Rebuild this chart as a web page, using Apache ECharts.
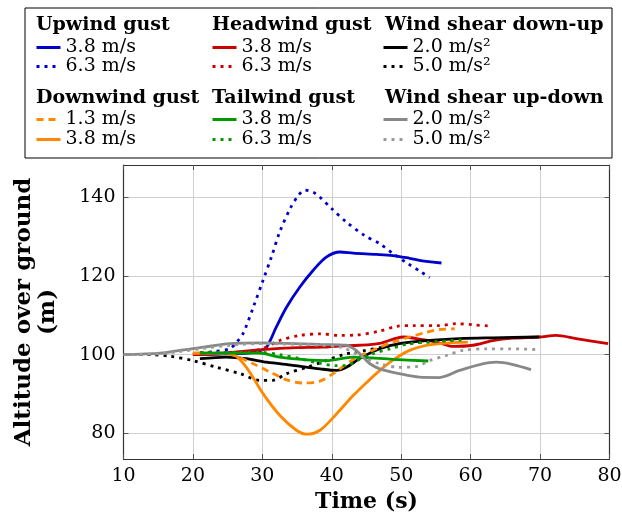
<!DOCTYPE html>
<html><head><meta charset="utf-8">
<script src="https://cdn.jsdelivr.net/npm/echarts@6/dist/echarts.min.js"></script>
<style>html,body{margin:0;padding:0;background:#fff}#c{width:622px;height:521px}</style>
</head><body><div id="c"></div>
<script>
// ---- data ----
const xTickValues = [10, 20, 30, 40, 50, 60, 70, 80];
const yTickValues = [80, 100, 120, 140];
const groupTitles = ["Upwind gust", "Headwind gust", "Wind shear down-up", "Downwind gust", "Tailwind gust", "Wind shear up-down"];
const entryLabels = ["3.8 m/s", "6.3 m/s", "3.8 m/s", "6.3 m/s", "2.0 m/s\u00b2", "5.0 m/s\u00b2", "1.3 m/s", "3.8 m/s", "3.8 m/s", "6.3 m/s", "2.0 m/s\u00b2", "5.0 m/s\u00b2"];

const upwind38T = [20, 25, 28, 29.5, 30.6, 32.0, 33.5, 35.4, 37.3, 39.2, 41.2, 43.1, 46.4, 48.8, 51.2, 53.6, 55.8];
const upwind38H = [100, 100.2, 100.4, 100.9, 101.9, 107.0, 112.1, 117.2, 121.4, 124.8, 126.1, 125.8, 125.5, 125.2, 124.5, 123.7, 123.3];
const upwind63T = [20, 23, 25.3, 26.3, 27.2, 28.7, 30.1, 31.3, 32.5, 34.0, 35.2, 36.1, 37.3, 38.3, 40.0, 42.1, 44.7, 46.9, 48.8, 51.0, 52.9, 54.1];
const upwind63H = [100.2, 100.8, 101.5, 103.2, 105.3, 112.1, 118.9, 124.8, 131.2, 137.1, 140.5, 141.8, 141.3, 140.0, 137.1, 133.7, 130.3, 128.2, 125.7, 123.1, 121.0, 119.6];
const headwind38T = [20, 25, 30, 35, 38.7, 41, 44.0, 46.9, 50.3, 52.2, 55.1, 57.5, 60.3, 63.2, 66.1, 69.9, 72.3, 75.2, 79.8];
const headwind38H = [100, 100.5, 101.3, 101.8, 101.9, 102.2, 102.4, 102.9, 104.5, 104.1, 103.2, 102.1, 102.4, 103.6, 104.2, 104.5, 104.9, 104.1, 102.8];
const headwind63T = [20, 25, 29.6, 32.5, 35.4, 38.3, 41.2, 43.5, 46.9, 49.3, 51.7, 55.5, 57.9, 60.3, 62.7];
const headwind63H = [100, 100.3, 101.3, 103.6, 104.9, 105.3, 104.9, 105.0, 106.0, 107.2, 107.4, 107.4, 107.9, 107.6, 107.3];
const shearDU20T = [21.0, 24.8, 27.7, 30.6, 34.4, 38.3, 40.7, 42.1, 44.0, 46.9, 49.7, 53.6, 58.4, 63.2, 69.9];
const shearDU20H = [99.0, 99.4, 99.0, 98.1, 97.3, 96.4, 96.0, 96.8, 99.0, 101.5, 102.8, 103.6, 104.1, 104.3, 104.5];
const shearDU50T = [10, 14, 16.7, 20.0, 23.4, 26.8, 29.6, 31.5, 33.5, 36.4, 39.2, 41.6, 44.5, 47.4, 50.7, 54.0, 58.0];
const shearDU50H = [100, 100, 99.6, 98.5, 96.8, 95.2, 93.5, 93.5, 95.2, 96.8, 98.5, 100.0, 101.0, 101.9, 102.8, 103.3, 103.8];
const downwind13T = [20, 23.6, 25.8, 28.7, 31.1, 33.5, 35.9, 38.3, 40.2, 42.6, 44.0, 46.4, 48.8, 51.2, 53.6, 55.5, 57.7];
const downwind13H = [100.4, 100.4, 99.9, 97.7, 95.6, 93.6, 92.8, 93.3, 95.2, 98.2, 99.6, 101.5, 103.2, 104.5, 105.7, 106.4, 106.6];
const downwind38T = [20, 23.9, 25.8, 27.7, 30.1, 32.5, 34.9, 36.4, 38.3, 40.7, 43.1, 44.0, 46.4, 48.8, 51.2, 53.6, 56.0, 59.6];
const downwind38H = [100.4, 100.4, 100.1, 96.8, 90.1, 84.6, 80.8, 79.8, 80.8, 85.0, 89.7, 91.2, 95.2, 98.6, 101.1, 102.4, 102.9, 103.2];
const tailwind38T = [21, 23.4, 29.6, 32.5, 36.4, 39.2, 43.1, 48.8, 53.9];
const tailwind38H = [100.4, 100.4, 100.4, 99.4, 98.7, 98.5, 99.4, 98.8, 98.4];
const tailwind63T = [21, 25, 29.6, 32.5, 35.4, 38.3, 40.5, 42.0, 43.6, 46.0, 48.4, 51.2, 54.1, 58.9];
const tailwind63H = [100.6, 100.6, 100.6, 100.0, 99.0, 97.8, 97.2, 97.2, 98.5, 100.3, 101.5, 102.8, 103.2, 103.8];
const shearUD20T = [10, 15.3, 18.1, 21.5, 25.3, 29.6, 33.5, 38.3, 42.1, 43.5, 44.5, 45.5, 46.9, 49.7, 52.6, 55.5, 58.4, 61.3, 63.7, 66.1, 68.7];
const shearUD20H = [100, 100.4, 101.1, 101.9, 102.8, 103.0, 102.9, 102.6, 102.4, 101.1, 99.4, 97.7, 96.4, 95.2, 94.3, 94.2, 96.0, 97.5, 98.1, 97.5, 96.2];
const shearUD50T = [10, 15, 18, 21.5, 25.3, 29.6, 33.5, 38.3, 41.5, 44, 46.9, 49.7, 52.2, 54.1, 56.5, 58.9, 62.3, 65.6, 69.7];
const shearUD50H = [100, 100.2, 100.8, 101.6, 102.4, 102.8, 102.7, 102.4, 101.8, 99.8, 97.7, 96.8, 97.0, 98.5, 99.8, 101.1, 101.5, 101.5, 101.3];

// ---- styling ----
const FONT = 'DejaVu Serif';
const DOT = [3, 5];
const DASH = [7, 5];
const defs = [
  { name: 'Upwind gust 3.8',  label: entryLabels[0],  t: upwind38T,  h: upwind38H,  color: '#0000cc', type: 'solid', lx: 35,  ly: 45 },
  { name: 'Upwind gust 6.3',  label: entryLabels[1],  t: upwind63T,  h: upwind63H,  color: '#0000cc', type: DOT,     lx: 35,  ly: 64 },
  { name: 'Headwind gust 3.8', label: entryLabels[2], t: headwind38T, h: headwind38H, color: '#cc0000', type: 'solid', lx: 211, ly: 45 },
  { name: 'Headwind gust 6.3', label: entryLabels[3], t: headwind63T, h: headwind63H, color: '#cc0000', type: DOT,     lx: 211, ly: 64 },
  { name: 'Shear DU 2.0',     label: entryLabels[4],  t: shearDU20T, h: shearDU20H, color: '#000000', type: 'solid', lx: 382, ly: 45 },
  { name: 'Shear DU 5.0',     label: entryLabels[5],  t: shearDU50T, h: shearDU50H, color: '#000000', type: DOT,     lx: 382, ly: 64 },
  { name: 'Downwind gust 1.3', label: entryLabels[6], t: downwind13T, h: downwind13H, color: '#ff8800', type: DASH,   lx: 35,  ly: 117 },
  { name: 'Downwind gust 3.8', label: entryLabels[7], t: downwind38T, h: downwind38H, color: '#ff8800', type: 'solid', lx: 35,  ly: 137 },
  { name: 'Tailwind gust 3.8', label: entryLabels[8], t: tailwind38T, h: tailwind38H, color: '#009900', type: 'solid', lx: 211, ly: 117 },
  { name: 'Tailwind gust 6.3', label: entryLabels[9], t: tailwind63T, h: tailwind63H, color: '#009900', type: DOT,     lx: 211, ly: 137 },
  { name: 'Shear UD 2.0',     label: entryLabels[10], t: shearUD20T, h: shearUD20H, color: '#888888', type: 'solid', lx: 382, ly: 117 },
  { name: 'Shear UD 5.0',     label: entryLabels[11], t: shearUD50T, h: shearUD50H, color: '#9a9a9a', type: DOT,     lx: 382, ly: 137 }
];
const titlePos = [[36, 25], [212, 25], [385, 25], [36, 98], [212, 98], [385, 98]];

const series = defs.map(d => ({
  type: 'line', name: d.name,
  data: d.t.map((x, i) => [x, d.h[i]]),
  symbol: 'none', showSymbol: false, smooth: 0.3,
  lineStyle: { color: d.color, width: 2.8, type: d.type, cap: 'butt' },
  itemStyle: { color: d.color },
  emphasis: { disabled: true }, silent: true, animation: false
}));

const legends = defs.map(d => ({
  show: true, data: [d.name], left: d.lx, top: d.ly - 7,
  orient: 'horizontal', padding: 0, itemGap: 0,
  itemWidth: 24, itemHeight: 14, selectedMode: false,
  formatter: () => d.label,
  itemStyle: { opacity: 0, borderWidth: 0 },
  lineStyle: { width: 3, type: d.type, color: d.color, cap: 'butt' },
  textStyle: { fontFamily: FONT, fontSize: 19, color: '#000', lineHeight: 14 }
}));

const graphics = [{
  type: 'rect', shape: { x: 25, y: 8, width: 587, height: 150 },
  style: { fill: 'none', stroke: '#000', lineWidth: 1 }, silent: true
}].concat(groupTitles.map((t, i) => ({
  type: 'text', x: titlePos[i][0], y: titlePos[i][1], silent: true,
  style: { text: t, fill: '#000', font: 'bold 19px "DejaVu Serif"', verticalAlign: 'middle', align: 'left' }
})));

const axisLineStyle = { color: '#333', width: 1.2 };
const tickStyle = { inside: true, length: 5, lineStyle: { color: '#555', width: 1 } };

const option = {
  backgroundColor: '#fff',
  animation: false,
  grid: { left: 123.5, right: 12.5, top: 165, bottom: 62, containLabel: false, outerBoundsMode: 'none' },
  legend: legends,
  graphic: graphics,
  xAxis: [{
    type: 'value', min: 10, max: 80, interval: 10, position: 'bottom',
    axisLine: { show: true, onZero: false, lineStyle: axisLineStyle },
    axisTick: tickStyle,
    axisLabel: { fontFamily: FONT, fontSize: 19, color: '#000', margin: 8 },
    splitLine: { show: true, lineStyle: { color: '#cfcfcf', width: 1 } },
    name: 'Time (s)', nameLocation: 'middle', nameGap: 31,
    nameTextStyle: { fontFamily: FONT, fontWeight: 'bold', fontSize: 22, color: '#000' }
  }, {
    type: 'value', min: 10, max: 80, interval: 10, position: 'top',
    axisLine: { show: true, onZero: false, lineStyle: axisLineStyle },
    axisTick: tickStyle, axisLabel: { show: false }, splitLine: { show: false }
  }],
  yAxis: [{
    type: 'value', min: 73.5, max: 148.2, position: 'left',
    axisLine: { show: true, onZero: false, lineStyle: axisLineStyle },
    axisTick: Object.assign({ customValues: yTickValues }, tickStyle),
    axisLabel: { customValues: yTickValues, fontFamily: FONT, fontSize: 19, color: '#000', margin: 8 },
    splitLine: { show: true, lineStyle: { color: '#cfcfcf', width: 1 } },
    name: 'Altitude over ground\n(m)', nameLocation: 'middle', nameRotate: 90, nameGap: 63,
    nameTextStyle: { fontFamily: FONT, fontWeight: 'bold', fontSize: 23, color: '#000', lineHeight: 24, align: 'center' }
  }, {
    type: 'value', min: 73.5, max: 148.2, position: 'right',
    axisLine: { show: true, onZero: false, lineStyle: axisLineStyle },
    axisTick: Object.assign({ customValues: yTickValues }, tickStyle),
    axisLabel: { show: false }, splitLine: { show: false }
  }],
  series: series
};

const chart = echarts.init(document.getElementById('c'), null, { renderer: 'canvas' });
chart.setOption(option);
</script>
</body></html>
